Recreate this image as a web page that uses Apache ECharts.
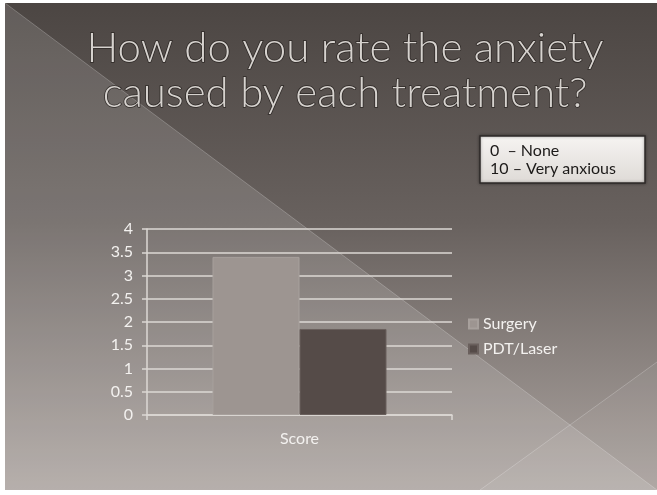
<!DOCTYPE html>
<html>
<head>
<meta charset="utf-8">
<script src="https://cdn.jsdelivr.net/npm/echarts@6/dist/echarts.min.js"></script>
<style>
  html, body { margin: 0; padding: 0; background: #fff; }
  #chart { width: 657px; height: 495px; }
</style>
</head>
<body>
<div id="chart"></div>
<script>
// data
const categories = ['Score']
const seriesNames = ['Surgery', 'PDT/Laser']
const surgeryValues = [3.4]
const pdtValues = [1.85]
const yMin = 0
const yMax = 4
const yStep = 0.5
const titleLines = ['How do you rate the anxiety', 'caused by each treatment?']
const noteLines = ['0  \u2013 None', '10 \u2013 Very anxious']

const font = 'Lato, "Noto Sans", sans-serif'
const lightText = '#f3f1ef'
const gridColor = '#dcd8d4'

let myChart = echarts.init(document.getElementById('chart'))

// slide decoration: background, diagonal panels, title and the little note box
let graphic = [
  {
    type: 'rect',
    z: -20,
    silent: true,
    shape: { x: 5, y: 3, width: 652, height: 487 },
    style: {
      fill: new echarts.graphic.LinearGradient(0, 0, 0, 1, [
        { offset: 0, color: '#4c4643' },
        { offset: 0.45, color: '#68615e' },
        { offset: 1, color: '#aca4a0' }
      ])
    }
  },
  {
    type: 'polygon',
    z: -19,
    silent: true,
    shape: { points: [[5, 3], [657, 490], [5, 490]] },
    style: { fill: 'rgba(255,255,255,0.13)' }
  },
  {
    type: 'polygon',
    z: -19,
    silent: true,
    shape: { points: [[480, 490], [657, 362], [657, 490]] },
    style: { fill: 'rgba(255,255,255,0.05)' }
  },
  {
    type: 'line',
    z: -18,
    silent: true,
    shape: { x1: 5, y1: 3, x2: 657, y2: 490 },
    style: { stroke: 'rgba(255,255,255,0.22)', lineWidth: 1 }
  },
  {
    type: 'line',
    z: -18,
    silent: true,
    shape: { x1: 480, y1: 490, x2: 657, y2: 362 },
    style: { stroke: 'rgba(255,255,255,0.22)', lineWidth: 1 }
  }
]

titleLines.forEach((line, i) => {
  graphic.push({
    type: 'text',
    z: 10,
    silent: true,
    x: 345,
    y: 27 + i * 45,
    style: {
      text: line,
      font: '300 42px ' + font,
      fill: '#d6d2ce',
      stroke: 'rgba(38,33,30,0.85)',
      lineWidth: 1.5,
      align: 'center',
      verticalAlign: 'top'
    }
  })
})

graphic.push({
  type: 'group',
  z: 10,
  children: [
    {
      type: 'rect',
      shape: { x: 480, y: 136, width: 165, height: 47 },
      style: {
        fill: new echarts.graphic.LinearGradient(0, 0, 0, 1, [
          { offset: 0, color: '#f6f4f2' },
          { offset: 1, color: '#dedad6' }
        ]),
        stroke: '#2e2a28',
        lineWidth: 1.5,
        shadowBlur: 3,
        shadowColor: 'rgba(0,0,0,0.4)'
      }
    }
  ].concat(noteLines.map((line, i) => ({
    type: 'text',
    x: 490,
    y: 143 + i * 18,
    style: {
      text: line,
      font: '16px ' + font,
      fill: '#1c1a19',
      verticalAlign: 'top'
    }
  })))
})

let option = {
  animation: false,
  textStyle: { fontFamily: font },
  graphic: graphic,
  legend: {
    data: seriesNames,
    orient: 'vertical',
    left: 468,
    top: 316,
    padding: 0,
    itemWidth: 9,
    itemHeight: 9,
    itemGap: 9,
    icon: 'rect',
    textStyle: { color: lightText, fontSize: 16, fontFamily: font }
  },
  grid: {
    left: 147,
    right: 205,
    top: 229,
    bottom: 80,
    containLabel: false
  },
  xAxis: {
    type: 'category',
    data: categories,
    axisLine: { lineStyle: { color: gridColor, width: 1.5 } },
    axisTick: { show: true, length: 5, lineStyle: { color: gridColor, width: 1.5 } },
    axisLabel: { color: lightText, fontSize: 16, margin: 16, fontFamily: font }
  },
  yAxis: {
    type: 'value',
    min: yMin,
    max: yMax,
    interval: yStep,
    axisLine: { show: true, lineStyle: { color: gridColor, width: 1.5 } },
    axisTick: { show: true, length: 5, lineStyle: { color: gridColor, width: 1.5 } },
    axisLabel: { color: lightText, fontSize: 16, margin: 14, fontFamily: font },
    splitLine: { lineStyle: { color: gridColor, width: 1.5 } }
  },
  series: [
    {
      name: seriesNames[0],
      type: 'bar',
      data: surgeryValues,
      barWidth: 87,
      barGap: '0%',
      itemStyle: { color: '#9d9591', borderColor: '#a7a09c', borderWidth: 1 }
    },
    {
      name: seriesNames[1],
      type: 'bar',
      data: pdtValues,
      barWidth: 87,
      itemStyle: { color: '#554b48', borderColor: '#6a605d', borderWidth: 1 }
    }
  ]
}

myChart.setOption(option, true)
</script>
</body>
</html>
